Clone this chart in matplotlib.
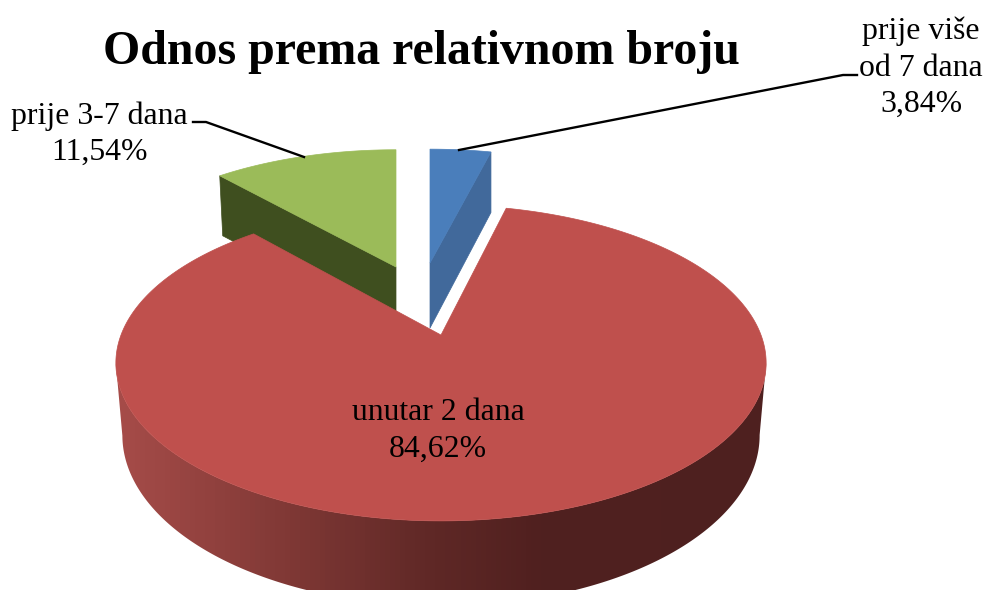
import numpy as np
import matplotlib
matplotlib.use("Agg")
import matplotlib.pyplot as plt
from matplotlib.patches import Polygon

# Data
categories = ["prije više\nod 7 dana", "unutar 2 dana", "prije 3-7 dana"]
values = [3.84, 84.62, 11.54]
value_labels = ["3,84%", "84,62%", "11,54%"]
title = "Odnos prema relativnom broju"

plt.rcParams['font.family'] = ['Liberation Serif', 'DejaVu Serif']
fig = plt.figure(figsize=(9.88, 5.90), dpi=100)
ax = fig.add_axes([0, 0, 1, 1])
ax.set_xlim(0, 988)
ax.set_ylim(590, 0)
ax.axis('off')

K = 0.177


def project(theta, r, cx, cy, R, S):
    X = r * np.sin(theta)
    Y = r * np.cos(theta)
    w = 1 + K * Y
    return cx + R * X / w, cy - S * Y / w, w


def arc(t0, t1, cx, cy, R, S, n=200):
    t = np.linspace(t0, t1, n)
    x, y, w = project(t, 1.0, cx, cy, R, S)
    return np.column_stack([x, y]), w


def lower(x, y, w, cx, T, shrink=0.98):
    return cx + (x - cx) * shrink, y + T / w


fractions = np.array(values) / sum(values)
edges = np.concatenate([[0], np.cumsum(fractions)]) * 2 * np.pi

# Blue slice
t0, t1 = edges[0], edges[1]
c = (430, 263, 299, 134)
pts, _ = arc(t0, t1, *c, n=40)
xr, yr, wr = project(t1, 1.0, *c)
xb, yb = lower(xr, yr, wr, c[0], 71, 1.0)
ax.add_patch(Polygon([(xr, yr), (c[0], c[1]), (c[0], c[1] + 65), (xb, yb)],
                     closed=True, fc='#41699b', ec='#41699b', lw=0.5, zorder=2))
ax.add_patch(Polygon(np.vstack([[c[0], c[1]], pts]), closed=True,
                     fc='#4a7ebb', ec='#4a7ebb', lw=0.5, zorder=3))

# Green slice
t0, t1 = edges[2], edges[3]
c = (396, 267, 301, 138)
pts, _ = arc(t0, t1, *c, n=60)
xl, yl, wl = project(t0, 1.0, *c)
ax.add_patch(Polygon([(xl, yl), (c[0], c[1]), (c[0], c[1] + 60), (xl + 3, yl + 60)],
                     closed=True, fc='#3f4f1f', ec='#3f4f1f', lw=0.5, zorder=2))
ax.add_patch(Polygon(np.vstack([[c[0], c[1]], pts]), closed=True,
                     fc='#9bbb59', ec='#9bbb59', lw=0.5, zorder=3))

# Red slice
t0, t1 = edges[1], edges[2]
c = (441, 335, 320, 153)
T = 70
ts = np.linspace(t0, t1, 721)
xs, ys, ws = project(ts, 1.0, *c)
bx, by = lower(xs, ys, ws, c[0], T)

# wall: front part of the rim, between its widest points, with a horizontal gradient
i0, i1 = int(np.argmax(xs)), int(np.argmin(xs))
wall = Polygon(np.vstack([np.column_stack([xs[i0:i1 + 1], ys[i0:i1 + 1]]),
                          np.column_stack([bx[i0:i1 + 1], by[i0:i1 + 1]])[::-1]]),
               closed=True, fc='none', ec='none', zorder=4)
ax.add_patch(wall)
gx = np.linspace(100, 780, 136)
stops = [100, 300, 433, 540, 780]
grad = np.stack([np.interp(gx, stops, [170, 125, 95, 80, 78]),
                 np.interp(gx, stops, [78, 55, 40, 32, 32]),
                 np.interp(gx, stops, [75, 52, 38, 31, 31])], axis=-1)[None, :, :] / 255
im = ax.imshow(grad, extent=(100, 780, 620, 200), aspect='auto', zorder=4,
               interpolation='nearest')
im.set_clip_path(wall)
ax.set_xlim(0, 988)
ax.set_ylim(590, 0)

ax.add_patch(Polygon(np.vstack([[c[0], c[1]], np.column_stack([xs, ys])]), closed=True,
                     fc='#bf504d', ec='#bf504d', lw=0.5, zorder=5))

# Leader lines
ax.plot([193, 206, 304], [122, 122, 157], color='black', lw=1.7, zorder=6,
        solid_joinstyle='round')
ax.plot([459, 843, 857], [150, 75, 75], color='black', lw=1.7, zorder=6,
        solid_joinstyle='round')

# Text
fs = 22.9
ls = 1.33
ax.text(421.5, 52, title, fontsize=34.5, fontweight='bold', ha='center', va='center', zorder=7)
ax.text(921, 68, f"{categories[0]}\n{value_labels[0]}", fontsize=fs, ha='center', va='center',
        linespacing=ls, zorder=7)
ax.text(438, 431, f"{categories[1]}\n{value_labels[1]}", fontsize=fs, ha='center', va='center',
        linespacing=ls, zorder=7)
ax.text(99, 134, f"{categories[2]}\n{value_labels[2]}", fontsize=fs, ha='center', va='center',
        linespacing=ls, zorder=7)

fig.savefig("out.png", dpi=100, facecolor='white')
